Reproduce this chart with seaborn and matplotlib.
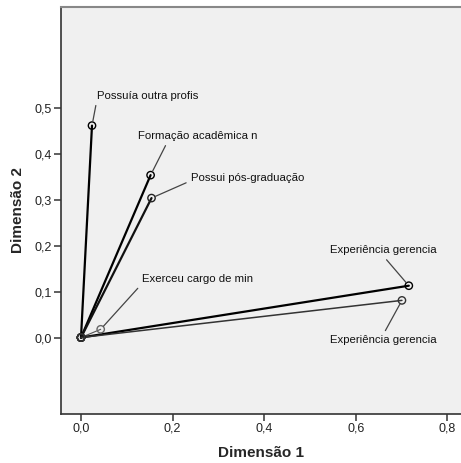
import matplotlib
matplotlib.use("Agg")
import matplotlib.pyplot as plt
import seaborn as sns
import pandas as pd
from matplotlib.ticker import FuncFormatter

variables = ["Possuía outra profis", "Formação acadêmica n", "Possui pós-graduação",
             "Exerceu cargo de min", "Experiência gerencia", "Experiência gerencia "]
dim1 = [0.024, 0.152, 0.154, 0.043, 0.716, 0.701]
dim2 = [0.462, 0.354, 0.304, 0.018, 0.113, 0.081]
x_ticks = [0.0, 0.2, 0.4, 0.6, 0.8]
y_ticks = [0.0, 0.1, 0.2, 0.3, 0.4, 0.5]

sns.set_theme(style="white")
plt.rcParams['font.family'] = ['Liberation Sans', 'DejaVu Sans']

fig = plt.figure(figsize=(4.61, 4.63), dpi=100)
ax = fig.add_axes([61/461, (463-413.7)/463, 1 - 61/461, (413.7-7)/463])
ax.set_facecolor("#F0F0F0")

widths = [1.6, 1.6, 1.6, 0.8, 1.6, 1.1]
colors = ["#000000", "#000000", "#111111", "#555555", "#000000", "#333333"]
edgec = ["#000000", "#000000", "#222222", "#666666", "#000000", "#333333"]

rows = []
for v, x, y in zip(variables, dim1, dim2):
    rows.append({"var": v, "d1": 0.0, "d2": 0.0, "o": 0})
    rows.append({"var": v, "d1": x, "d2": y, "o": 1})
df = pd.DataFrame(rows)

for i, v in enumerate(variables):
    sub = df[df["var"] == v]
    sns.lineplot(data=sub, x="d1", y="d2", sort=False, estimator=None,
                 color=colors[i], linewidth=widths[i], ax=ax, zorder=2)
    sns.scatterplot(data=sub, x="d1", y="d2", s=28, marker="o",
                    facecolor="none", edgecolor=edgec[i], linewidth=1.0, ax=ax, zorder=3)

# labels with leader lines (offsets in points)
offsets = [(3.4, 21.4), (-9.1, 28.1), (28.2, 14.6), (29.5, 36.2), (-18.7, 25.4), (-13.7, -28.6)]
has = ["left", "left", "left", "left", "center", "center"]
relposs = [(0.0, 0.0), (0.25, 0.0), (0.0, 0.2), (0.0, 0.0), (0.5, 0.0), (0.5, 1.0)]
for i, v in enumerate(variables):
    ax.annotate(v.strip(), xy=(dim1[i], dim2[i]), xytext=offsets[i], textcoords="offset points",
                fontsize=8.2, ha=has[i], va="center", color="#111111",
                arrowprops=dict(arrowstyle="-", color="#444444", lw=0.9,
                                shrinkA=1, shrinkB=3, relpos=relposs[i]))

ax.set_xlim(-0.0437, 0.83)
ax.set_ylim(-0.166, 0.7205)
ax.set_xticks(x_ticks)
ax.set_yticks(y_ticks)
fmt = FuncFormatter(lambda v, p: f"{v:.1f}".replace(".", ","))
ax.xaxis.set_major_formatter(fmt)
ax.yaxis.set_major_formatter(fmt)
ax.tick_params(axis="both", direction="out", length=5, width=1.2, color="#444444",
               labelsize=9, labelcolor="#222222", bottom=True, left=True, pad=1.5)
ax.set_xlabel("Dimensão 1", fontsize=11, fontweight="bold", labelpad=8)
ax.set_ylabel("Dimensão 2", fontsize=11, fontweight="bold", labelpad=7)

for s in ["left", "bottom"]:
    ax.spines[s].set_color("#333333")
    ax.spines[s].set_linewidth(1.2)
ax.spines["top"].set_color("#888888")
ax.spines["top"].set_linewidth(1.5)
ax.spines["right"].set_visible(False)

fig.savefig("out.png", dpi=100)
